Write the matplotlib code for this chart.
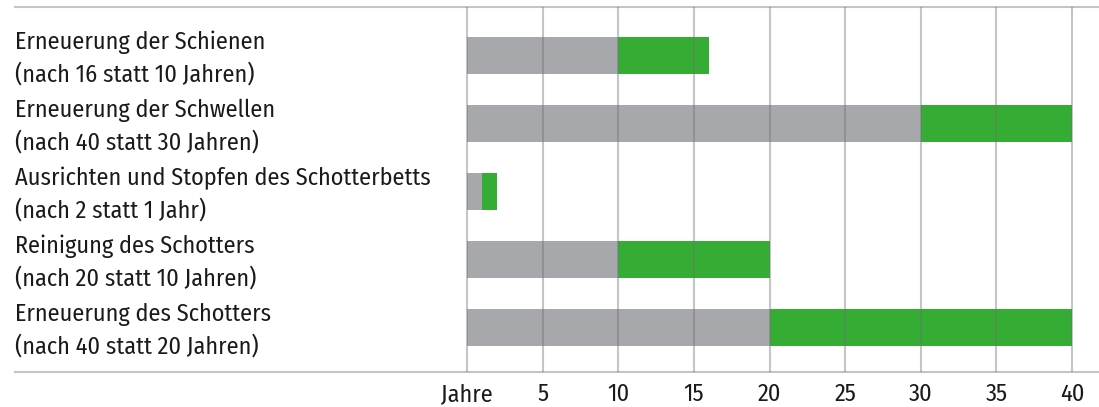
import matplotlib
matplotlib.use("Agg")
import matplotlib.pyplot as plt
from matplotlib import font_manager
import matplotlib.transforms as mtransforms

labels = [
    "Erneuerung der Schienen\n(nach 16 statt 10 Jahren)",
    "Erneuerung der Schwellen\n(nach 40 statt 30 Jahren)",
    "Ausrichten und Stopfen des Schotterbetts\n(nach 2 statt 1 Jahr)",
    "Reinigung des Schotters\n(nach 20 statt 10 Jahren)",
    "Erneuerung des Schotters\n(nach 40 statt 20 Jahren)",
]
old_years = [10, 30, 1, 10, 20]
new_years = [16, 40, 2, 20, 40]
tick_values = [0, 5, 10, 15, 20, 25, 30, 35, 40]
tick_labels = ["Jahre", "5", "10", "15", "20", "25", "30", "35", "40"]

names = {f.name for f in font_manager.fontManager.ttflist}
fam = "DejaVu Sans"
for cand in ["Fira Sans Condensed", "PT Sans Narrow", "Asap Condensed",
             "Roboto Condensed", "Archivo Narrow", "Open Sans Condensed"]:
    if cand in names:
        fam = cand
        break
plt.rcParams["font.family"] = [fam, "DejaVu Sans"]

W, H = 1099, 407
fig = plt.figure(figsize=(W / 100, H / 100), dpi=100)
ax = fig.add_axes([15 / W, 1 - 372 / H, 1 - 15 / W, (372 - 7) / H])

# choose font size so the longest line matches the reference width (~417 px)
renderer = fig.canvas.get_renderer()
probe = fig.text(0, 0, "Ausrichten und Stopfen des Schotterbetts", fontsize=10)
wpx = probe.get_window_extent(renderer).width
probe.remove()
fsize = 10 * 417 / wpx

px_per_year = (1072 - 467) / 40
x_left = -(467 - 15) / px_per_year
x_right = (1099 - 467) / px_per_year
ax.set_xlim(x_left, x_right)
ax.set_ylim(len(labels) - 1 + 0.65, -0.71)

gray = "#a7a8ac"
green = "#35ad35"
ys = list(range(len(labels)))
ax.barh(ys, old_years, height=0.55, color=gray, zorder=2)
ax.barh(ys, [n - o for n, o in zip(new_years, old_years)], left=old_years,
        height=0.55, color=green, zorder=2)

for v in tick_values:
    ax.axvline(v, color="#707070", alpha=0.4, lw=1.5, zorder=3)

shift = mtransforms.ScaledTranslation(0, -3 / 100, fig.dpi_scale_trans)
for y, lab in zip(ys, labels):
    ax.text(0, y, lab, transform=ax.get_yaxis_transform() + shift, ha="left",
            va="center", fontsize=fsize, color="#1a1a1a", linespacing=1.45)

ax.set_xticks(tick_values)
ax.set_xticklabels(tick_labels, fontsize=fsize, color="#1a1a1a")
ax.tick_params(axis="x", length=0, pad=8)
ax.set_yticks([])
for s in ["left", "right"]:
    ax.spines[s].set_visible(False)
for s in ["top", "bottom"]:
    ax.spines[s].set_color("#c4c4c4")
    ax.spines[s].set_linewidth(1.5)

fig.savefig("out.png", dpi=100)
